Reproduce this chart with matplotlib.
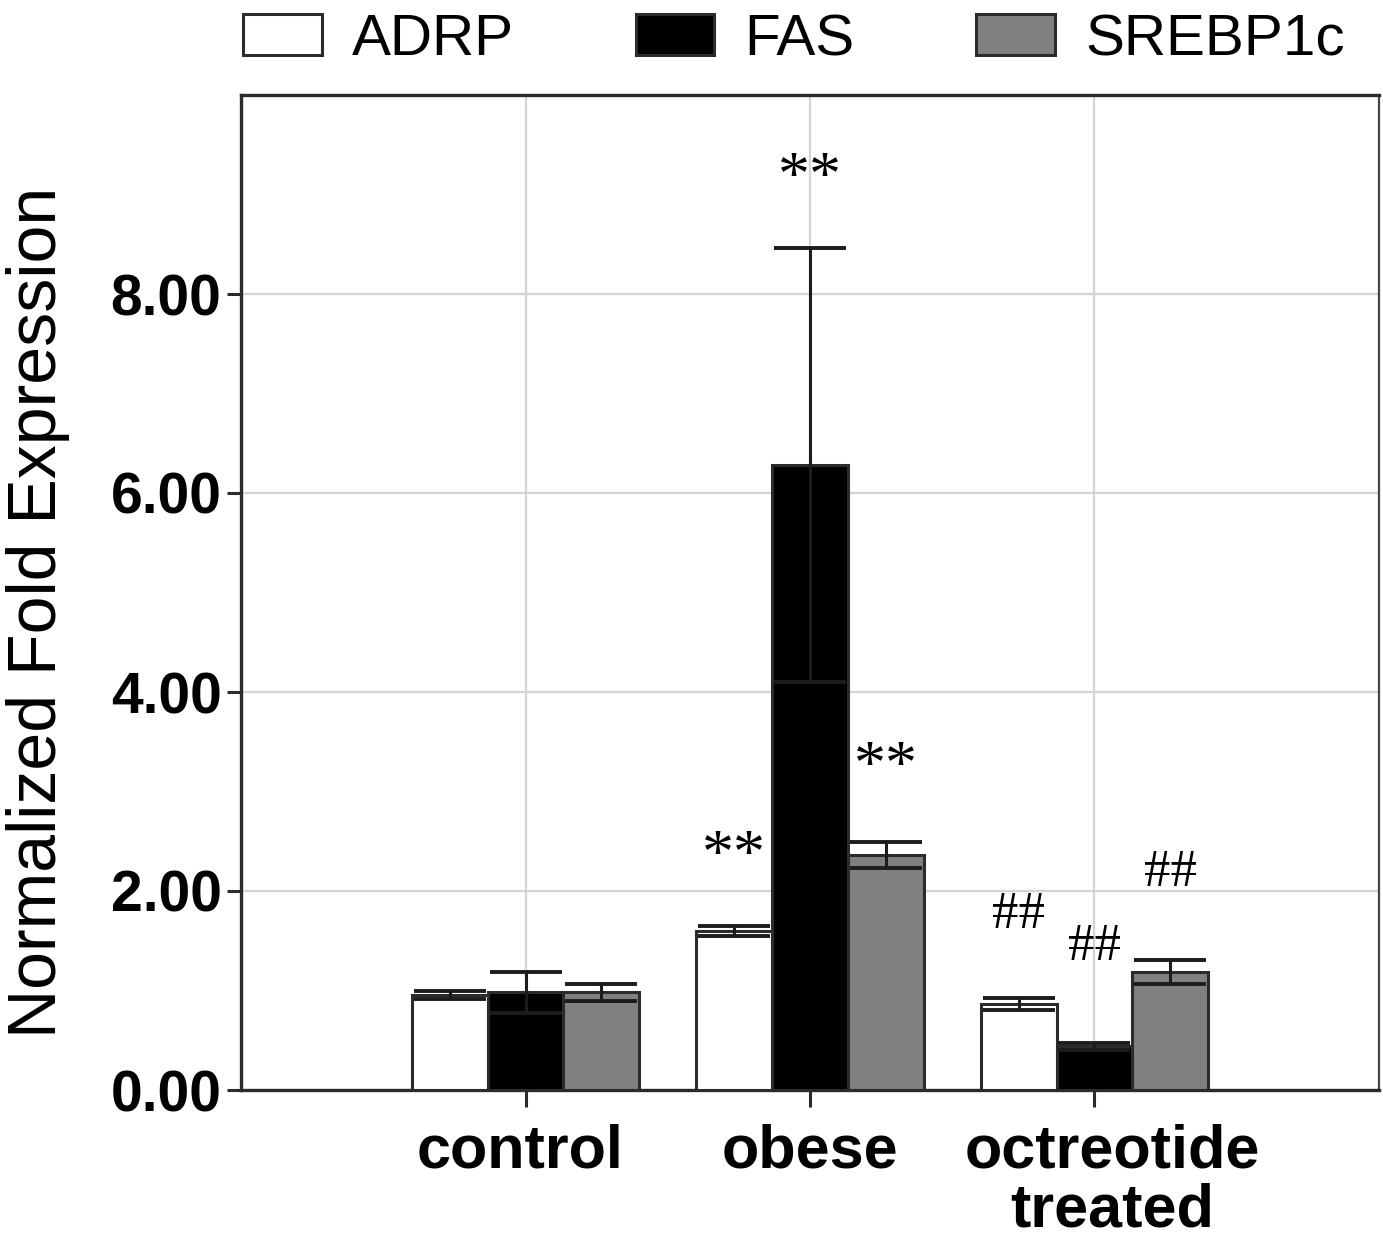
import numpy as np
import matplotlib
matplotlib.use("Agg")
import matplotlib.pyplot as plt
from matplotlib.transforms import ScaledTranslation

plt.rcParams['font.family'] = ['Liberation Sans', 'DejaVu Sans']

# data
groups = ['control', 'obese', 'octreotide\ntreated']
genes = ['ADRP', 'FAS', 'SREBP1c']
adrp = [0.95, 1.60, 0.86]
adrp_err = [0.04, 0.05, 0.06]
fas = [0.98, 6.28, 0.44]
fas_err = [0.21, 2.18, 0.035]
srebp = [0.98, 2.36, 1.19]
srebp_err = [0.09, 0.13, 0.12]

# significance marks: (group index, gene index, text, y position)
marks = [(1, 0, '**', 2.33), (1, 1, '**', 9.15), (1, 2, '**', 3.23),
         (2, 0, '##', 1.76), (2, 1, '##', 1.44), (2, 2, '##', 2.18)]

colors = ['white', 'black', '#808080']
edge = '#2b2b2b'

fig = plt.figure(figsize=(13.83, 12.39), dpi=100)
ax = fig.add_axes([241/1383, 1-1090/1239, (1379-241)/1383, (1090-95)/1239])

x = np.arange(1, len(groups)+1)
w = 0.8/3
offsets = [-w, 0, w]
series = [(adrp, adrp_err), (fas, fas_err), (srebp, srebp_err)]

for i, (vals, errs) in enumerate(series):
    ax.bar(x + offsets[i], vals, width=w, color=colors[i], edgecolor=edge,
           linewidth=2.2, zorder=3, label=genes[i])
    ax.errorbar(x + offsets[i], vals, yerr=errs, fmt='none', ecolor='#1c1c1c',
                elinewidth=2.2, capsize=26, capthick=2.8, zorder=4)

for g, k, txt, yy in marks:
    fs = 46 if txt == '**' else 38
    ax.text(x[g] + offsets[k], yy, txt, ha='center', va='center',
            fontsize=fs, family='Liberation Serif', color='black')

ax.set_xlim(0, 4)
ax.set_ylim(0, 10)
ax.set_yticks([0, 2, 4, 6, 8])
ax.set_yticklabels(['%.2f' % v for v in [0, 2, 4, 6, 8]], fontsize=41,
                   fontweight='bold')
ax.set_xticks(x)
ax.set_xticklabels(groups, fontsize=44, fontweight='bold', linespacing=1.05)
ax.tick_params(axis='y', length=10, width=2.2, color=edge, pad=4)
ax.tick_params(axis='x', length=12, width=2.2, color=edge, pad=12)
# nudge the labels sideways like in the reference
shifts = [-5, 0, 18]
for lab, dx in zip(ax.get_xticklabels(), shifts):
    lab.set_transform(lab.get_transform() + ScaledTranslation(dx/100, 0, fig.dpi_scale_trans))

ax.grid(True, color='#d4d4d4', linewidth=1.6, zorder=0)
ax.set_axisbelow(True)
for s in ['left', 'bottom', 'top']:
    ax.spines[s].set_linewidth(2.4)
    ax.spines[s].set_color(edge)
ax.spines['right'].set_linewidth(1.6)
ax.spines['right'].set_color('#444444')

ax.set_ylabel('Normalized Fold Expression', fontsize=49)
ax.yaxis.set_label_coords(-0.150, 0.48)

fig.legend(loc='center', bbox_to_anchor=(794/1383, 1-40/1239), ncol=3,
           frameon=False, fontsize=42, handlelength=1.34, handleheight=0.72,
           handletextpad=0.52, columnspacing=2.09, borderaxespad=0)

fig.savefig('out.png', dpi=100)
